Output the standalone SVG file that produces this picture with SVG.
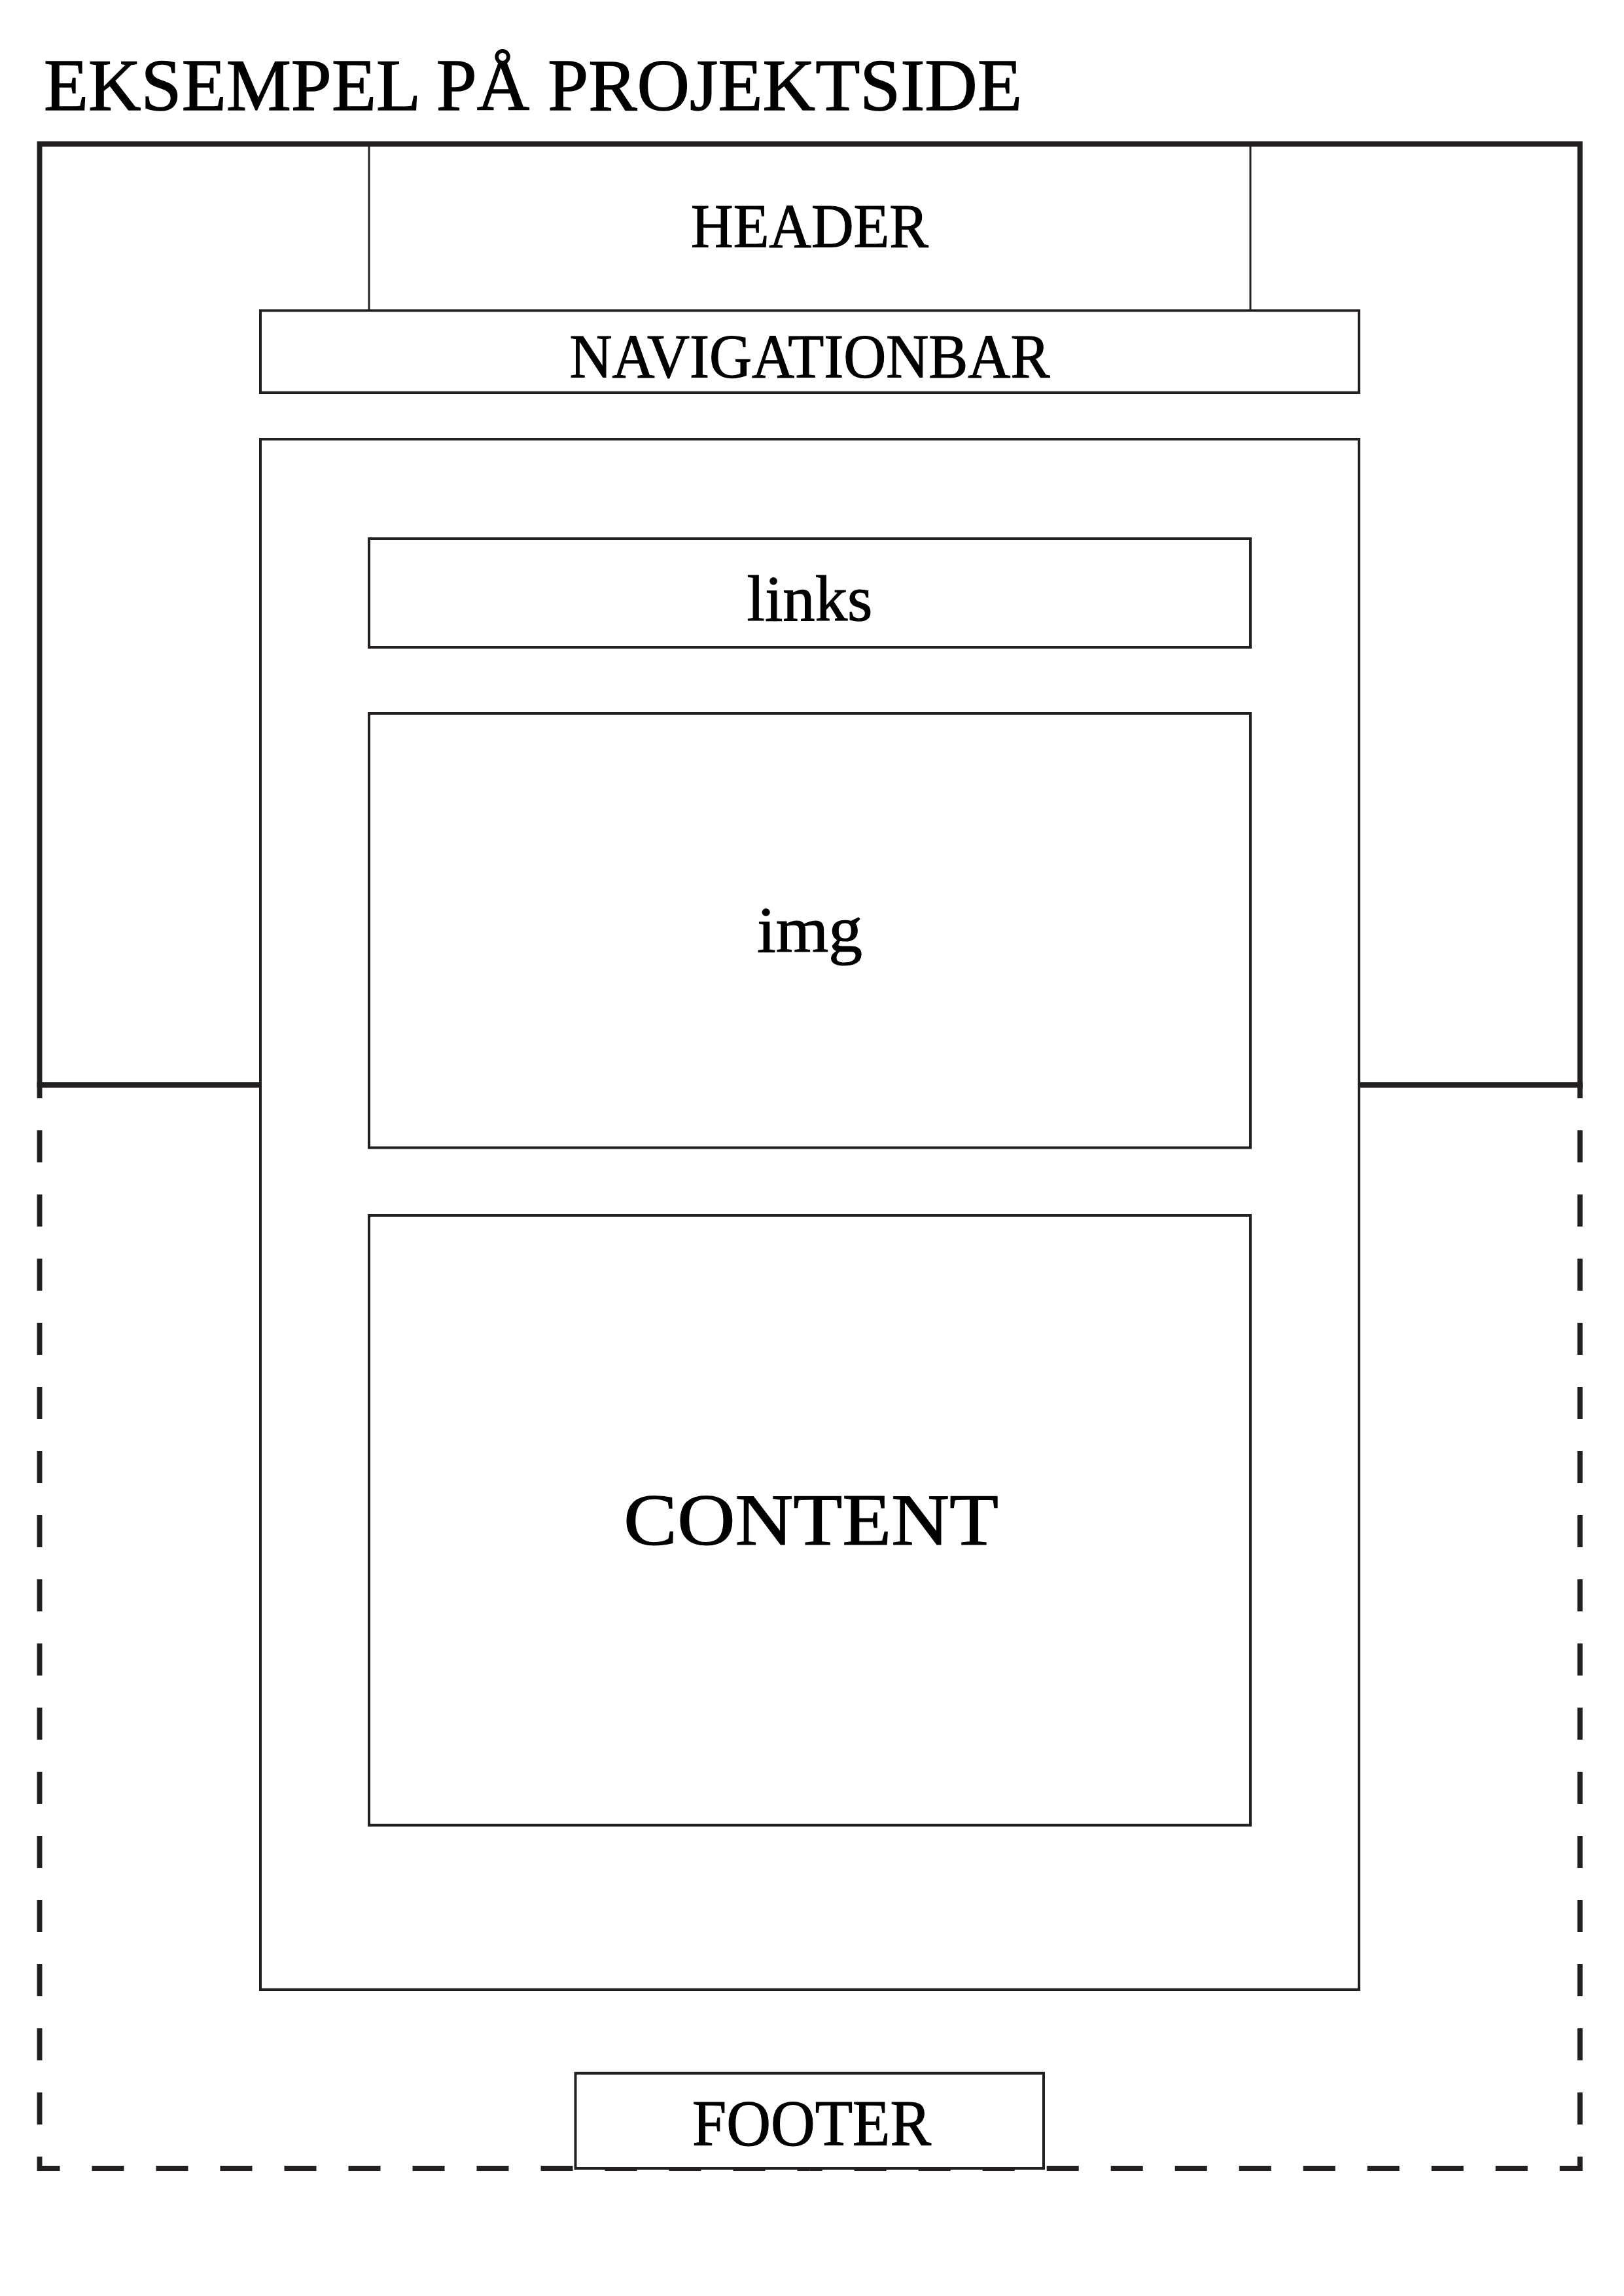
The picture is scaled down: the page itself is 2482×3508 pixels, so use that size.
<svg xmlns="http://www.w3.org/2000/svg" width="2482" height="3508" viewBox="0 0 2482 3508">
<style>
.ln{fill:none;stroke:#231f20;stroke-linecap:butt;stroke-linejoin:miter}
.box{fill:#fff;stroke:#231f20;stroke-width:4}
.t{font-family:"Liberation Serif","Times New Roman",serif;fill:#000;stroke:#000;stroke-width:1.2;text-anchor:middle}
</style>
<rect x="0" y="0" width="2482" height="3508" fill="#fff"/>
<text id="title" x="67" y="168" font-family="Liberation Serif, serif" font-size="112" fill="#000" stroke="#000" stroke-width="1.4" textLength="1495" lengthAdjust="spacingAndGlyphs">EKSEMPEL PÅ PROJEKTSIDE</text>
<g id="connectors">
<path class="ln" stroke-width="8" d="M60.5,1678 V220 H2414.7 V1678"/>
<path class="ln" stroke-width="8.5" d="M56.5,1657.6 H398 M2077,1657.6 H2418.7"/>
<path class="ln" stroke-width="8" stroke-dasharray="49 49" d="M60.5,1727 V3313 H1237.5"/>
<path class="ln" stroke-width="8" stroke-dasharray="49 49" d="M2414.7,1727 V3313 H1237.5"/>
</g>
<g id="header">
<path class="ln" stroke-width="3" d="M564,220 V474 M1911,220 V474"/>
<text class="t" x="1237.5" y="378" font-size="96" textLength="363" lengthAdjust="spacingAndGlyphs">HEADER</text>
</g>
<g id="navigationbar">
<rect class="box" x="398" y="474.5" width="1679" height="125.5"/>
<text class="t" x="1237.5" y="577" font-size="96" textLength="734" lengthAdjust="spacingAndGlyphs">NAVIGATIONBAR</text>
</g>
<g id="container">
<rect class="box" x="398" y="671" width="1679" height="2369"/>
</g>
<g id="links">
<rect class="box" x="564" y="823" width="1347" height="166"/>
<text class="t" x="1237.5" y="948" font-size="100" textLength="192" lengthAdjust="spacingAndGlyphs">links</text>
</g>
<g id="img">
<rect class="box" x="564" y="1090" width="1347" height="663.5"/>
<text class="t" x="1237.5" y="1454" font-size="100" textLength="161" lengthAdjust="spacingAndGlyphs">img</text>
</g>
<g id="content">
<rect class="box" x="564" y="1857" width="1347" height="931.7"/>
<text class="t" x="1239.5" y="2360" font-size="112" textLength="573" lengthAdjust="spacingAndGlyphs">CONTENT</text>
</g>
<g id="footer">
<rect class="box" x="879.5" y="3167.7" width="715.5" height="145.3"/>
<text class="t" x="1240.5" y="3277" font-size="100" textLength="365" lengthAdjust="spacingAndGlyphs">FOOTER</text>
</g>
</svg>
